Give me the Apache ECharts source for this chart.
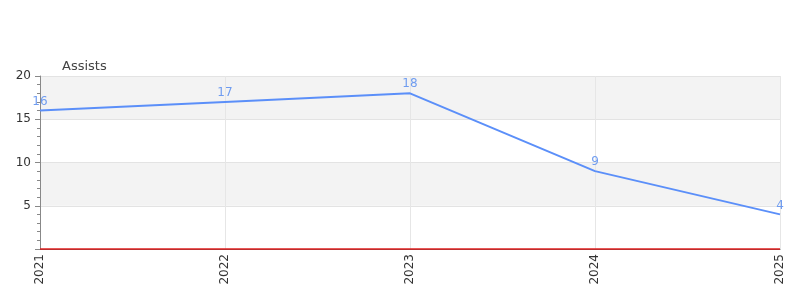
<!DOCTYPE html>
<html>
<head>
<meta charset="utf-8">
<script src="https://cdn.jsdelivr.net/npm/echarts@6/dist/echarts.min.js"></script>
<style>html,body{margin:0;padding:0;background:#fff}#c{width:800px;height:300px}</style>
</head>
<body>
<div id="c"></div>
<script>
const categories = ['2021', '2022', '2023', '2024', '2025'];
const assists = [16, 17, 18, 9, 4];
const seriesName = 'Assists';

const chart = echarts.init(document.getElementById('c'), null, {renderer: 'canvas'});
chart.setOption({
  animation: false,
  grid: {left: 40, right: 20, top: 76, bottom: 51, containLabel: false},
  xAxis: {
    type: 'category',
    data: categories,
    boundaryGap: false,
    offset: 1,
    axisLine: {lineStyle: {color: '#555', width: 1}},
    axisTick: {show: false},
    axisLabel: {rotate: 90, color: '#333', fontSize: 12, fontFamily: 'DejaVu Sans', margin: 4},
    splitLine: {show: true, lineStyle: {color: '#e6e6e6'}}
  },
  yAxis: {
    type: 'value',
    min: 0,
    max: 20,
    interval: 5,
    name: seriesName,
    nameLocation: 'end',
    nameGap: 3,
    nameTextStyle: {color: '#444', fontSize: 13, fontFamily: 'DejaVu Sans', align: 'left', padding: [0, 0, 0, 22]},
    axisLine: {show: true, lineStyle: {color: '#888'}},
    axisTick: {show: true, length: 5, lineStyle: {color: '#888'}},
    minorTick: {show: true, splitNumber: 5, length: 3, lineStyle: {color: '#888'}},
    axisLabel: {color: '#333', fontSize: 12, fontFamily: 'DejaVu Sans', margin: 9,
      formatter: v => v === 0 ? '' : String(v)},
    splitLine: {show: true, lineStyle: {color: '#e3e3e3'}},
    splitArea: {show: true, areaStyle: {color: ['rgba(255,255,255,1)', 'rgba(243,243,243,1)']}}
  },
  series: [{
    name: seriesName,
    type: 'line',
    data: assists,
    showSymbol: true,
    symbol: 'circle',
    symbolSize: 0,
    lineStyle: {color: '#5b8ff9', width: 2},
    itemStyle: {color: '#5b8ff9'},
    label: {show: true, position: 'top', color: '#6f9cf0', fontSize: 12, fontFamily: 'DejaVu Sans', distance: 3},
    markLine: {
      silent: true,
      symbol: 'none',
      animation: false,
      label: {show: false},
      lineStyle: {color: '#e02020', type: 'solid', width: 1.5, opacity: 1},
      data: [{yAxis: 0}]
    }
  }]
});
</script>
</body>
</html>
